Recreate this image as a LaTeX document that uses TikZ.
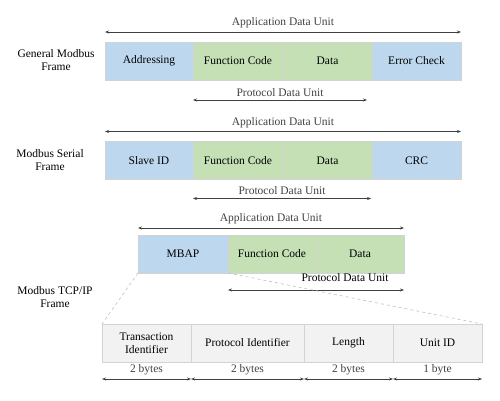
\documentclass[tikz,border=0pt]{standalone}
\usepackage{fontspec}
\setmainfont{Liberation Serif}
\usetikzlibrary{positioning,calc,arrows.meta}
\definecolor{addrblue}{HTML}{BDD7EE}
\definecolor{pdugreen}{HTML}{C5E0B4}
\definecolor{hdrgray}{HTML}{F2F2F2}
\definecolor{edgegray}{HTML}{D3D3D3}

\begin{document}
\begin{tikzpicture}[x=1pt,y=1pt,
    font=\fontsize{11.5}{13}\selectfont,
    cell/.style={draw=edgegray,line width=0.8pt,minimum height=38pt,
      inner sep=1pt,outer sep=0pt,align=center},
    blue cell/.style={cell,fill=addrblue},
    green cell/.style={cell,fill=pdugreen},
    gray cell/.style={cell,fill=hdrgray},
    span/.style={{Stealth[length=4pt,width=3pt]}-{Stealth[length=4pt,width=3pt]},
      line width=0.6pt,black!75},
    frame label/.style={align=center},
    zoom line/.style={dashed,draw=black!25,line width=0.6pt}
  ]
  \useasboundingbox (0,0) rectangle (500,400);

  % general modbus frame
  \node[frame label] (gen) at (56,340) {General Modbus\\Frame};
  \node[blue cell,minimum width=88pt,anchor=west] (adr) at (105,339) {Addressing};
  \node[green cell,minimum width=90pt,right=0pt of adr] (fc1) {Function Code};
  \node[green cell,minimum width=89pt,right=0pt of fc1] (dat1) {Data};
  \node[blue cell,minimum width=89pt,right=0pt of dat1] (chk) {Error Check};
  \draw[span] ($(adr.north west)+(0,10)$) -- node[above] {Application Data Unit}
    ($(chk.north east)+(0,10)$);
  \draw[span] ($(fc1.south west)+(0,-20)$) -- node[above] {Protocol Data Unit}
    ($(dat1.south east)+(-5,-20)$);

  % serial frame
  \node[frame label] (ser) at (50,240) {Modbus Serial\\Frame};
  \node[blue cell,minimum width=88pt,anchor=west] (sid) at (105,239.5) {Slave ID};
  \node[green cell,minimum width=90pt,right=0pt of sid] (fc2) {Function Code};
  \node[green cell,minimum width=89pt,right=0pt of fc2] (dat2) {Data};
  \node[blue cell,minimum width=89pt,right=0pt of dat2] (crc) {CRC};
  \draw[span] ($(sid.north west)+(0,10)$) -- node[above] {Application Data Unit}
    ($(crc.north east)+(0,10)$);
  \draw[span] ($(fc2.south west)+(0,-19)$) -- node[above] {Protocol Data Unit}
    ($(dat2.south east)+(-1,-19)$);

  % tcp/ip frame
  \node[frame label] (tcp) at (55,103) {Modbus TCP/IP\\Frame};
  \node[blue cell,minimum width=90pt,anchor=west] (mbap) at (138,146) {MBAP};
  \node[green cell,minimum width=88pt,right=0pt of mbap] (fc3) {Function Code};
  \node[green cell,minimum width=88pt,right=0pt of fc3] (dat3) {Data};
  \draw[span] ($(mbap.north west)+(0,7)$) -- node[above] {Application Data Unit}
    ($(dat3.north east)+(0,7)$);
  \node (pdu3) at ($(dat3.south east)+(-59,-5)$) {Protocol Data Unit};
  \draw[span] ($(fc3.south west)+(0,-17)$) -- ($(dat3.south east)+(0,-17)$);

  % mbap header
  \node[gray cell,minimum width=89pt,anchor=west] (tid) at (102,57) {Transaction\\Identifier};
  \node[gray cell,minimum width=113pt,right=0pt of tid] (pid) {Protocol Identifier};
  \node[gray cell,minimum width=89pt,right=0pt of pid] (len) {Length};
  \node[gray cell,minimum width=89pt,right=0pt of len] (uid) {Unit ID};
  \draw[zoom line] (mbap.south west) -- (tid.north west);
  \draw[zoom line] (mbap.south east) -- (uid.north east);
  \draw[span] ($(tid.south west)+(0,-17)$) -- node[above] {2 bytes} ($(tid.south east)+(0,-17)$);
  \draw[span] ($(pid.south west)+(0,-17)$) -- node[above] {2 bytes} ($(pid.south east)+(0,-17)$);
  \draw[span] ($(len.south west)+(0,-17)$) -- node[above] {2 bytes} ($(len.south east)+(0,-17)$);
  \draw[span] ($(uid.south west)+(0,-17)$) -- node[above] {1 byte} ($(uid.south east)+(0,-17)$);
\end{tikzpicture}
\end{document}
